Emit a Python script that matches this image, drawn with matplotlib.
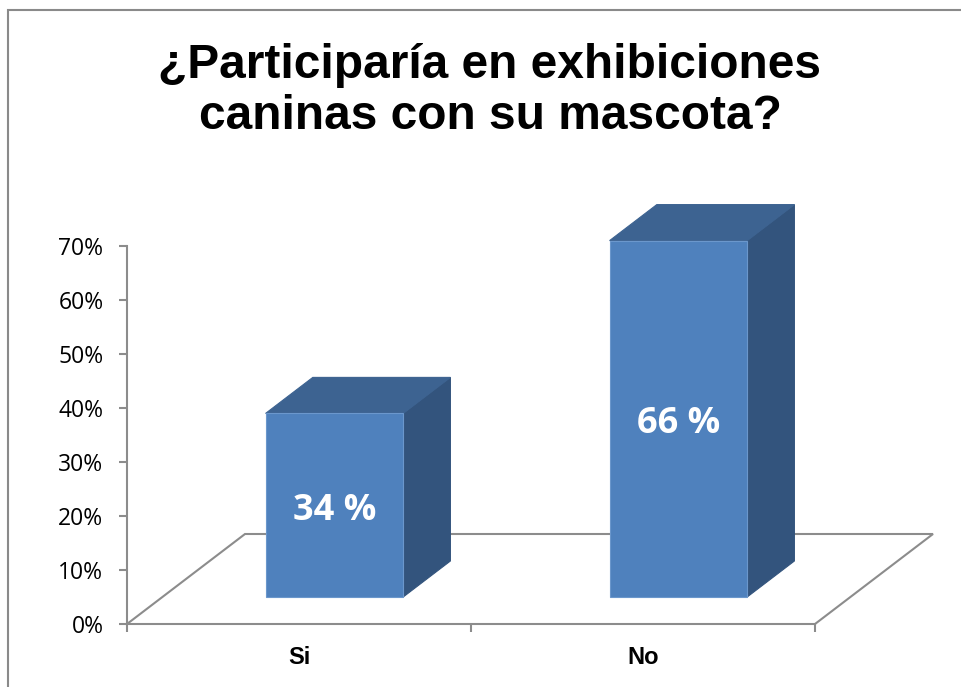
import matplotlib
matplotlib.use("Agg")
import matplotlib.pyplot as plt
from matplotlib.patches import Polygon, Rectangle

# data
categories = ["Si", "No"]
values = [34, 66]
value_labels = ["34 %", "66 %"]
y_ticks = [0, 10, 20, 30, 40, 50, 60, 70]
y_tick_labels = [f"{t}%" for t in y_ticks]
title = "¿Participaría en exhibiciones\ncaninas con su mascota?"

FRONT = "#4F81BD"
TOP = "#3D6391"
SIDE = "#33547D"
GRID = "#8C8C8C"

fig = plt.figure(figsize=(9.62, 6.87), dpi=100, facecolor="white")
W, H = 962, 687
ax = fig.add_axes([127 / W, (H - 624) / H, (815 - 127) / W, (624 - 246) / H])
ax.set_xlim(-0.5, len(categories) - 0.5)
ax.set_ylim(0, 70)
ax.set_facecolor("none")

# floor depth in data units
ddx = 118 / 344
ddy = 90 / 5.4
x_lo, x_hi = -0.5, len(categories) - 0.5

floor = [(x_lo, 0), (x_lo + ddx, ddy), (x_hi + ddx, ddy), (x_hi, 0)]
ax.add_patch(Polygon(floor, closed=False, fill=False, edgecolor=GRID,
                     lw=1.5, clip_on=False, zorder=1))

bw = 0.4
f0, f1 = 0.3, 0.7
bx, by = (f1 - f0) * ddx, (f1 - f0) * ddy
for i, (v, lab) in enumerate(zip(values, value_labels)):
    x0 = i - bw / 2 + f0 * ddx
    x1 = i + bw / 2 + f0 * ddx
    y0 = f0 * ddy
    y1 = y0 + v
    side = [(x1, y0), (x1 + bx, y0 + by), (x1 + bx, y1 + by), (x1, y1)]
    top = [(x0, y1), (x1, y1), (x1 + bx, y1 + by), (x0 + bx, y1 + by)]
    ax.add_patch(Polygon(side, closed=True, facecolor=SIDE, edgecolor=SIDE,
                         lw=0.8, clip_on=False, zorder=3))
    ax.add_patch(Polygon(top, closed=True, facecolor=TOP, edgecolor=TOP,
                         lw=0.8, clip_on=False, zorder=3))
    ax.add_patch(Rectangle((x0, y0), x1 - x0, v, facecolor=FRONT,
                           edgecolor="#6B97CC", lw=0.8, clip_on=False, zorder=4))
    ax.annotate(lab, ((x0 + x1) / 2, y0 + v / 2), xytext=(0, -4),
                textcoords="offset points", ha="center", va="center",
                color="white", fontsize=26, fontweight="bold",
                family="Open Sans", zorder=5)

for s in ["top", "right"]:
    ax.spines[s].set_visible(False)
for s in ["left", "bottom"]:
    ax.spines[s].set_color(GRID)
    ax.spines[s].set_linewidth(1.5)

ax.set_yticks(y_ticks)
ax.set_yticklabels(y_tick_labels, family="Open Sans", fontsize=16.5)
ax.tick_params(axis="y", direction="out", length=6, width=1.5, color=GRID, pad=11)

ax.set_xticks(range(len(categories)))
ax.set_xticklabels(categories, family="Liberation Sans", fontsize=17, fontweight="bold")
ax.set_xticks([x_lo + k for k in range(len(categories) + 1)], minor=True)
ax.tick_params(axis="x", which="major", length=0, pad=16)
ax.tick_params(axis="x", which="minor", direction="out", length=6, width=1.5, color=GRID)

fig.text(490 / W, 1 - 91 / H, title, ha="center", va="center", multialignment="center",
         family="Liberation Sans", fontweight="bold", fontsize=34.5, linespacing=1.15)

fig.patches.append(Rectangle((8 / W, -0.1), 1.2, 1.1 - 10 / H, transform=fig.transFigure,
                             fill=False, edgecolor="#8A8A8A", lw=1.5))

fig.savefig("out.png", dpi=100, facecolor="white")
